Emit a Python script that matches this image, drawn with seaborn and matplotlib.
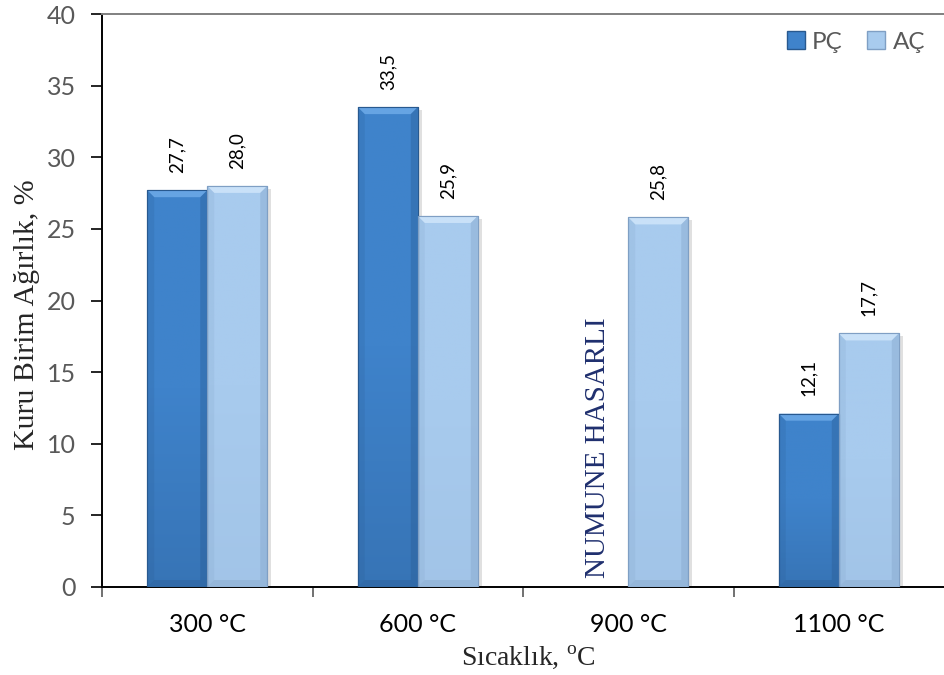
import numpy as np
import pandas as pd
import matplotlib
matplotlib.use("Agg")
import matplotlib.pyplot as plt
from matplotlib.patches import Polygon, Patch
import seaborn as sns

# Data
categories = ["300 °C", "600 °C", "900 °C", "1100 °C"]
pc_values = [27.7, 33.5, np.nan, 12.1]
ac_values = [28.0, 25.9, 25.8, 17.7]
series = ["PÇ", "AÇ"]
yticks = [0, 5, 10, 15, 20, 25, 30, 35, 40]

df = pd.DataFrame({
    "Sıcaklık": categories * 2,
    "Seri": [series[0]] * 4 + [series[1]] * 4,
    "Değer": pc_values + ac_values,
})

colors = {"PÇ": "#3f83cb", "AÇ": "#a8cbee"}
light = {"PÇ": "#6eaae8", "AÇ": "#cfe5fa"}
dark = {"PÇ": "#28598f", "AÇ": "#7f9fc4"}
bar_width = 0.57

sns.set_theme(style="white")
plt.rcParams["font.family"] = ["Lato", "DejaVu Sans"]
plt.rcParams["mathtext.fontset"] = "custom"
plt.rcParams["mathtext.rm"] = "Liberation Serif"

fig = plt.figure(figsize=(9.44, 6.75), dpi=100)
ax = fig.add_axes([102 / 944, 1 - 587 / 675, 1 - 102 / 944, (587 - 14) / 675])

sns.barplot(data=df, x="Sıcaklık", y="Değer", hue="Seri", order=categories,
            hue_order=series, palette=colors, width=bar_width, dodge=True,
            saturation=1, errorbar=None, legend=False, ax=ax, zorder=3)

ax.set_xlim(-0.5, 3.5)
ax.set_ylim(0, 40)
ax.set_yticks(yticks)
ax.set_yticklabels([str(t) for t in yticks], fontsize=18, color="#595959")
ax.tick_params(axis="y", length=8, width=1.2, color="black", direction="out", pad=11, left=True)
ax.set_xticks(range(len(categories)))
ax.set_xticklabels(categories, fontsize=18, color="black")
ax.tick_params(axis="x", length=0, pad=19)
ax.set_xticks([-0.5, 0.5, 1.5, 2.5], minor=True)
ax.tick_params(axis="x", which="minor", length=7, width=1.2, color="#595959", direction="out", bottom=True)

for side in ["left", "bottom"]:
    ax.spines[side].set_color("black")
    ax.spines[side].set_linewidth(1.4)
ax.spines["top"].set_color("#808080")
ax.spines["top"].set_linewidth(1.4)
ax.spines["right"].set_visible(False)

ax.set_ylabel("Kuru Birim Ağırlık, %", family="Liberation Serif", fontsize=21.5)
ax.yaxis.set_label_coords(-0.074, 0.475)
ax.set_xlabel("Sıcaklık, $^{\\mathrm{o}}$C", family="Liberation Serif", fontsize=20)
ax.xaxis.set_label_coords(0.506, -0.099)

fig.canvas.draw()

# Bevelled look for each bar, built from the bar geometry
bars = [p for p in ax.patches if p.get_height() == p.get_height() and p.get_height() > 0]
to_disp = ax.transData.transform
bevel = 7.0
for patch in bars:
    x0, y0 = patch.get_x(), patch.get_y()
    x1, y1 = x0 + patch.get_width(), y0 + patch.get_height()
    (dx0, dy0), (dx1, dy1) = to_disp([(x0, y0), (x1, y1)])
    key = "PÇ" if matplotlib.colors.to_hex(patch.get_facecolor()) == colors["PÇ"] else "AÇ"
    patch.set_edgecolor(dark[key])
    patch.set_linewidth(0.8)
    # drop shadow
    ax.add_patch(Polygon([(dx0 + 3, dy0 - 3), (dx1 + 4, dy0 - 3), (dx1 + 4, dy1 - 3), (dx1, dy1 - 3), (dx1, dy0), (dx0 + 3, dy0)],
                         closed=True, transform=None, facecolor="#000000", alpha=0.12, lw=0, zorder=2))
    # vertical gradient
    grad = np.linspace(0, 1, 256).reshape(-1, 1)
    im = ax.imshow(grad, extent=(x0, x1, y0, y1), aspect="auto", origin="lower",
                   cmap=matplotlib.colors.LinearSegmentedColormap.from_list(
                       "g", [dark[key], colors[key], colors[key]]),
                   alpha=0.35 if key == "PÇ" else 0.15, zorder=3.5)
    im.set_clip_path(patch)
    b = bevel
    top = [(dx0, dy1), (dx1, dy1), (dx1 - b, dy1 - b), (dx0 + b, dy1 - b)]
    bottom = [(dx0, dy0), (dx1, dy0), (dx1 - b, dy0 + b), (dx0 + b, dy0 + b)]
    left = [(dx0, dy0), (dx0 + b, dy0 + b), (dx0 + b, dy1 - b), (dx0, dy1)]
    right = [(dx1, dy0), (dx1 - b, dy0 + b), (dx1 - b, dy1 - b), (dx1, dy1)]
    ax.add_patch(Polygon(top, closed=True, transform=None, facecolor=light[key], lw=0, alpha=0.85, zorder=4))
    ax.add_patch(Polygon(bottom, closed=True, transform=None, facecolor=dark[key], lw=0, alpha=0.35, zorder=4))
    ax.add_patch(Polygon(left, closed=True, transform=None, facecolor=dark[key], lw=0, alpha=0.18, zorder=4))
    ax.add_patch(Polygon(right, closed=True, transform=None, facecolor=dark[key], lw=0, alpha=0.35, zorder=4))
    ax.add_patch(Polygon([(dx0, dy0), (dx1, dy0), (dx1, dy1), (dx0, dy1)], closed=True, transform=None,
                         facecolor="none", edgecolor=dark[key], lw=0.8, zorder=4.5))

# Value labels above the bars
for patch in bars:
    h = patch.get_height()
    ax.annotate(f"{h:.1f}".replace(".", ","), (patch.get_x() + patch.get_width() / 2, h),
                xytext=(0, 12.5), textcoords="offset points", rotation=90,
                ha="center", va="bottom", fontsize=13.5, color="black", zorder=6)

# Note in place of the missing 900 °C PÇ bar
missing_x = categories.index("900 °C") - bar_width / 4
ax.text(missing_x, 0.6, "NUMUNE HASARLI", rotation=90,
        ha="center", va="bottom", family="Liberation Serif", fontsize=21, color="#1f2f6e", zorder=6)

# Legend
handles = [Patch(facecolor=colors[s], edgecolor=dark[s], linewidth=1.0) for s in series]
ax.legend(handles, series, loc="upper right", bbox_to_anchor=(0.995, 0.995), ncol=2, frameon=False,
          fontsize=17.5, handlelength=0.75, handleheight=0.75, handletextpad=0.3, columnspacing=1.0,
          labelcolor="#595959", borderaxespad=0.2)

fig.savefig("out.png", dpi=100)
